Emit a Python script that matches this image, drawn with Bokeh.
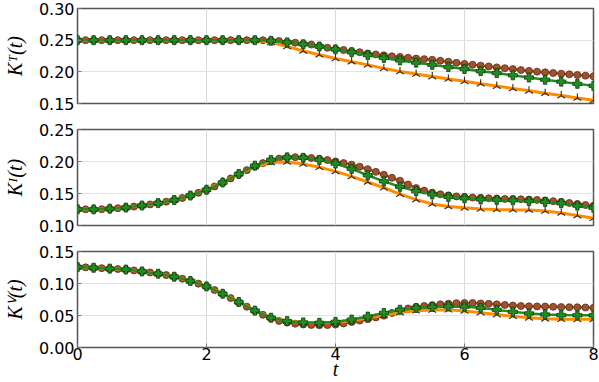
from math import pi
from bokeh.plotting import figure
from bokeh.models import Range1d, FixedTicker, PrintfTickFormatter, ColumnDataSource
from bokeh.layouts import column
from bokeh.embed import file_html
from bokeh.resources import INLINE

# ---------------- data ----------------
T_COARSE = [i * 0.25 for i in range(33)]
T_FINE = [i * 0.125 for i in range(65)]

KT_green = [0.25, 0.25, 0.25, 0.25, 0.25, 0.25, 0.25, 0.25, 0.25, 0.25, 0.25, 0.25,
            0.249, 0.2465, 0.2435, 0.240, 0.2355, 0.231, 0.2265, 0.222, 0.218, 0.2145,
            0.211, 0.2075, 0.2045, 0.201, 0.198, 0.1945, 0.191, 0.1875, 0.1845, 0.181, 0.178]
KT_orange = [0.25, 0.25, 0.25, 0.25, 0.25, 0.25, 0.25, 0.25, 0.25, 0.25, 0.25,
             0.2495, 0.2465, 0.240, 0.233, 0.227, 0.221, 0.216, 0.211, 0.2055, 0.2005,
             0.1965, 0.1925, 0.1887, 0.185, 0.1812, 0.1775, 0.1738, 0.170, 0.1663, 0.1625,
             0.1588, 0.155]
KT_brown = [0.25, 0.25, 0.25, 0.25, 0.25, 0.25, 0.25, 0.25,
            0.25, 0.25, 0.25, 0.25, 0.25, 0.25, 0.25, 0.25,
            0.25, 0.25, 0.25, 0.25, 0.25, 0.25, 0.25, 0.2499,
            0.2495, 0.2485, 0.247, 0.246, 0.2445, 0.243, 0.2405, 0.238,
            0.236, 0.2345, 0.2325, 0.231, 0.229, 0.2275, 0.226, 0.2245,
            0.2235, 0.2222, 0.221, 0.220, 0.219, 0.2175, 0.216, 0.2142,
            0.2125, 0.2112, 0.2098, 0.2085, 0.207, 0.2057, 0.2043, 0.2028,
            0.2015, 0.2003, 0.1992, 0.1981, 0.197, 0.196, 0.195, 0.194,
            0.193]

KI_green = [0.1255, 0.1252, 0.1262, 0.128, 0.1312, 0.135, 0.1398, 0.1468, 0.1558,
            0.1672, 0.1805, 0.1935, 0.2025, 0.2065, 0.2058, 0.2025, 0.1968, 0.1885,
            0.1785, 0.1690, 0.1605, 0.1537, 0.1486, 0.1447, 0.1425, 0.1408, 0.1400,
            0.1394, 0.1382, 0.1368, 0.1348, 0.1310, 0.1275]
KI_orange = [0.1255, 0.1252, 0.1262, 0.128, 0.1312, 0.135, 0.1398, 0.1468, 0.1565,
             0.1680, 0.1808, 0.192, 0.1985, 0.1992, 0.1960, 0.1910, 0.1845, 0.1768,
             0.1680, 0.1590, 0.1490, 0.1405, 0.1335, 0.1298, 0.1276, 0.1258, 0.1250,
             0.1246, 0.1243, 0.1226, 0.1196, 0.1155, 0.1113]
KI_brown = [0.1255, 0.1253, 0.1252, 0.1255, 0.1262, 0.127, 0.128, 0.1295,
            0.1312, 0.133, 0.135, 0.1372, 0.1398, 0.143, 0.1468, 0.151,
            0.1555, 0.161, 0.1668, 0.1735, 0.1800, 0.1865, 0.1925, 0.1975,
            0.2015, 0.2045, 0.2062, 0.2068, 0.2065, 0.2055, 0.2040, 0.2022,
            0.2000, 0.1975, 0.1950, 0.1918, 0.1880, 0.1838, 0.1792, 0.1745,
            0.1700, 0.1640, 0.1585, 0.1545, 0.1512, 0.1488, 0.1470, 0.1455,
            0.1445, 0.1437, 0.1430, 0.1425, 0.1420, 0.1415, 0.1412, 0.1410,
            0.1405, 0.1400, 0.1392, 0.1380, 0.1368, 0.1352, 0.1335, 0.1320,
            0.1308]

KV_green = [0.1257, 0.1246, 0.1232, 0.1218, 0.1189, 0.1153, 0.1106, 0.1040, 0.0955,
            0.0840, 0.0711, 0.0576, 0.0465, 0.0412, 0.0392, 0.0386, 0.0400, 0.0436,
            0.0483, 0.0540, 0.0590, 0.0618, 0.0634, 0.0642, 0.0638, 0.0620, 0.0588,
            0.0557, 0.0532, 0.0515, 0.0506, 0.0503, 0.0503]
KV_orange = [0.1257, 0.1246, 0.1232, 0.1218, 0.1189, 0.1153, 0.1106, 0.1040, 0.0955,
             0.0842, 0.0715, 0.0582, 0.0470, 0.0415, 0.0390, 0.0382, 0.0390, 0.0418,
             0.0460, 0.0505, 0.0545, 0.0574, 0.0586, 0.0589, 0.0572, 0.0545, 0.0514,
             0.0488, 0.0463, 0.0448, 0.0441, 0.0440, 0.0440]
KV_brown = [0.1257, 0.1252, 0.1246, 0.1240, 0.1232, 0.1226, 0.1218, 0.1205,
            0.1189, 0.1172, 0.1153, 0.1132, 0.1106, 0.1075, 0.1040, 0.0998,
            0.0953, 0.0897, 0.0837, 0.0772, 0.0705, 0.0638, 0.0572, 0.0510,
            0.0455, 0.0415, 0.0390, 0.0372, 0.0360, 0.0352, 0.0348, 0.0350,
            0.0358, 0.0375, 0.0398, 0.0420, 0.0442, 0.0470, 0.0498, 0.0540,
            0.0580, 0.0610, 0.0632, 0.0648, 0.0662, 0.0675, 0.0685, 0.0693,
            0.0696, 0.0695, 0.0688, 0.0682, 0.0674, 0.0665, 0.0655, 0.0648,
            0.0644, 0.0642, 0.0640, 0.0636, 0.0632, 0.0630, 0.0629, 0.0625,
            0.0620]

X_TICKS = [0, 2, 4, 6, 8]
Y_TICKS_T = [0.15, 0.20, 0.25, 0.30]
Y_TICKS_I = [0.10, 0.15, 0.20, 0.25]
Y_TICKS_V = [0.00, 0.05, 0.10, 0.15]
Y_LABELS = ["K\u1d40(t)", "K\u1d35(t)", "K\u2c7d(t)"]
X_LABEL = "t"

# ---------------- styling ----------------
BROWN = "#a0522d"
ORANGE = "#ff8c00"
GREEN = "#228b22"
TICK_FONT = "DejaVu Sans"
MATH_FONT = "Liberation Serif"

FRAME_W = 516
LEFT = 74
RIGHT = 9

xr = Range1d(0, 8)


def make_panel(green, orange, brown, yticks, ylabel, frame_h, top, bottom, last):
    p = figure(output_backend="svg", toolbar_location=None,
               frame_width=FRAME_W, frame_height=frame_h,
               x_range=xr, y_range=Range1d(yticks[0], yticks[-1]),
               min_border_left=LEFT, min_border_right=RIGHT,
               min_border_top=top, min_border_bottom=bottom)
    p.background_fill_color = "white"
    p.border_fill_color = "white"
    p.outline_line_color = "#555555"
    p.outline_line_width = 1.5
    p.outline_line_alpha = 1.0

    p.xgrid.grid_line_color = "#d9d9d9"
    p.ygrid.grid_line_color = "#e3e3e3"
    p.xgrid.grid_line_width = 1
    p.ygrid.grid_line_width = 1

    p.yaxis.ticker = FixedTicker(ticks=yticks)
    p.yaxis.formatter = PrintfTickFormatter(format="%.2f")
    p.yaxis.major_label_text_font = TICK_FONT
    p.yaxis.major_label_text_font_size = "16px"
    p.yaxis.major_label_text_color = "black"
    p.yaxis.major_label_standoff = 3
    p.yaxis.axis_line_color = None
    p.yaxis.major_tick_in = 4
    p.yaxis.major_tick_out = 0
    p.yaxis.major_tick_line_color = "#777777"
    p.yaxis.minor_tick_line_color = None
    p.yaxis.axis_label = ylabel
    p.yaxis.axis_label_text_font = MATH_FONT
    p.yaxis.axis_label_text_font_style = "italic"
    p.yaxis.axis_label_text_font_size = "20px"
    p.yaxis.axis_label_text_color = "black"
    p.yaxis.axis_label_standoff = 10

    p.xaxis.ticker = FixedTicker(ticks=X_TICKS)
    p.xaxis.formatter = PrintfTickFormatter(format="%d")
    p.xaxis.major_label_text_font = TICK_FONT
    p.xaxis.major_label_text_font_size = "16px"
    p.xaxis.major_label_text_color = "black"
    p.xaxis.major_label_standoff = 0
    p.xaxis.axis_line_color = None
    p.xaxis.major_tick_in = 4
    p.xaxis.major_tick_out = 0
    p.xaxis.major_tick_line_color = "#777777"
    p.xaxis.minor_tick_line_color = None
    if last:
        p.xaxis.axis_label = X_LABEL
        p.xaxis.axis_label_text_font = MATH_FONT
        p.xaxis.axis_label_text_font_style = "italic"
        p.xaxis.axis_label_text_font_size = "20px"
        p.xaxis.axis_label_text_color = "black"
        p.xaxis.axis_label_standoff = -5
    else:
        p.xaxis.visible = False

    sb = ColumnDataSource(dict(t=T_FINE, y=brown))
    so = ColumnDataSource(dict(t=T_COARSE, y=orange))
    sg = ColumnDataSource(dict(t=T_COARSE, y=green))

    p.line("t", "y", source=sb, line_color=BROWN, line_width=2.5)
    p.scatter("t", "y", source=sb, marker="circle", size=7,
              fill_color=BROWN, line_color="#5a2c12", line_width=0.8)

    p.line("t", "y", source=so, line_color=ORANGE, line_width=3)
    p.scatter("t", "y", source=so, marker="y", size=9, angle=pi,
              line_color="#3a2410", line_width=1.1)

    p.line("t", "y", source=sg, line_color=GREEN, line_width=2.5)
    p.scatter("t", "y", source=sg, marker="plus", size=9,
              fill_color=GREEN, line_color="#0d3d0d", line_width=0.8)
    return p


p1 = make_panel(KT_green, KT_orange, KT_brown, Y_TICKS_T, Y_LABELS[0], 95, 8, 13, False)
p2 = make_panel(KI_green, KI_orange, KI_brown, Y_TICKS_I, Y_LABELS[1], 96, 13, 13, False)
p3 = make_panel(KV_green, KV_orange, KV_brown, Y_TICKS_V, Y_LABELS[2], 96, 13, 33, True)

layout = column(p1, p2, p3, spacing=0)

open("out.html", "w").write(file_html(layout, INLINE))
